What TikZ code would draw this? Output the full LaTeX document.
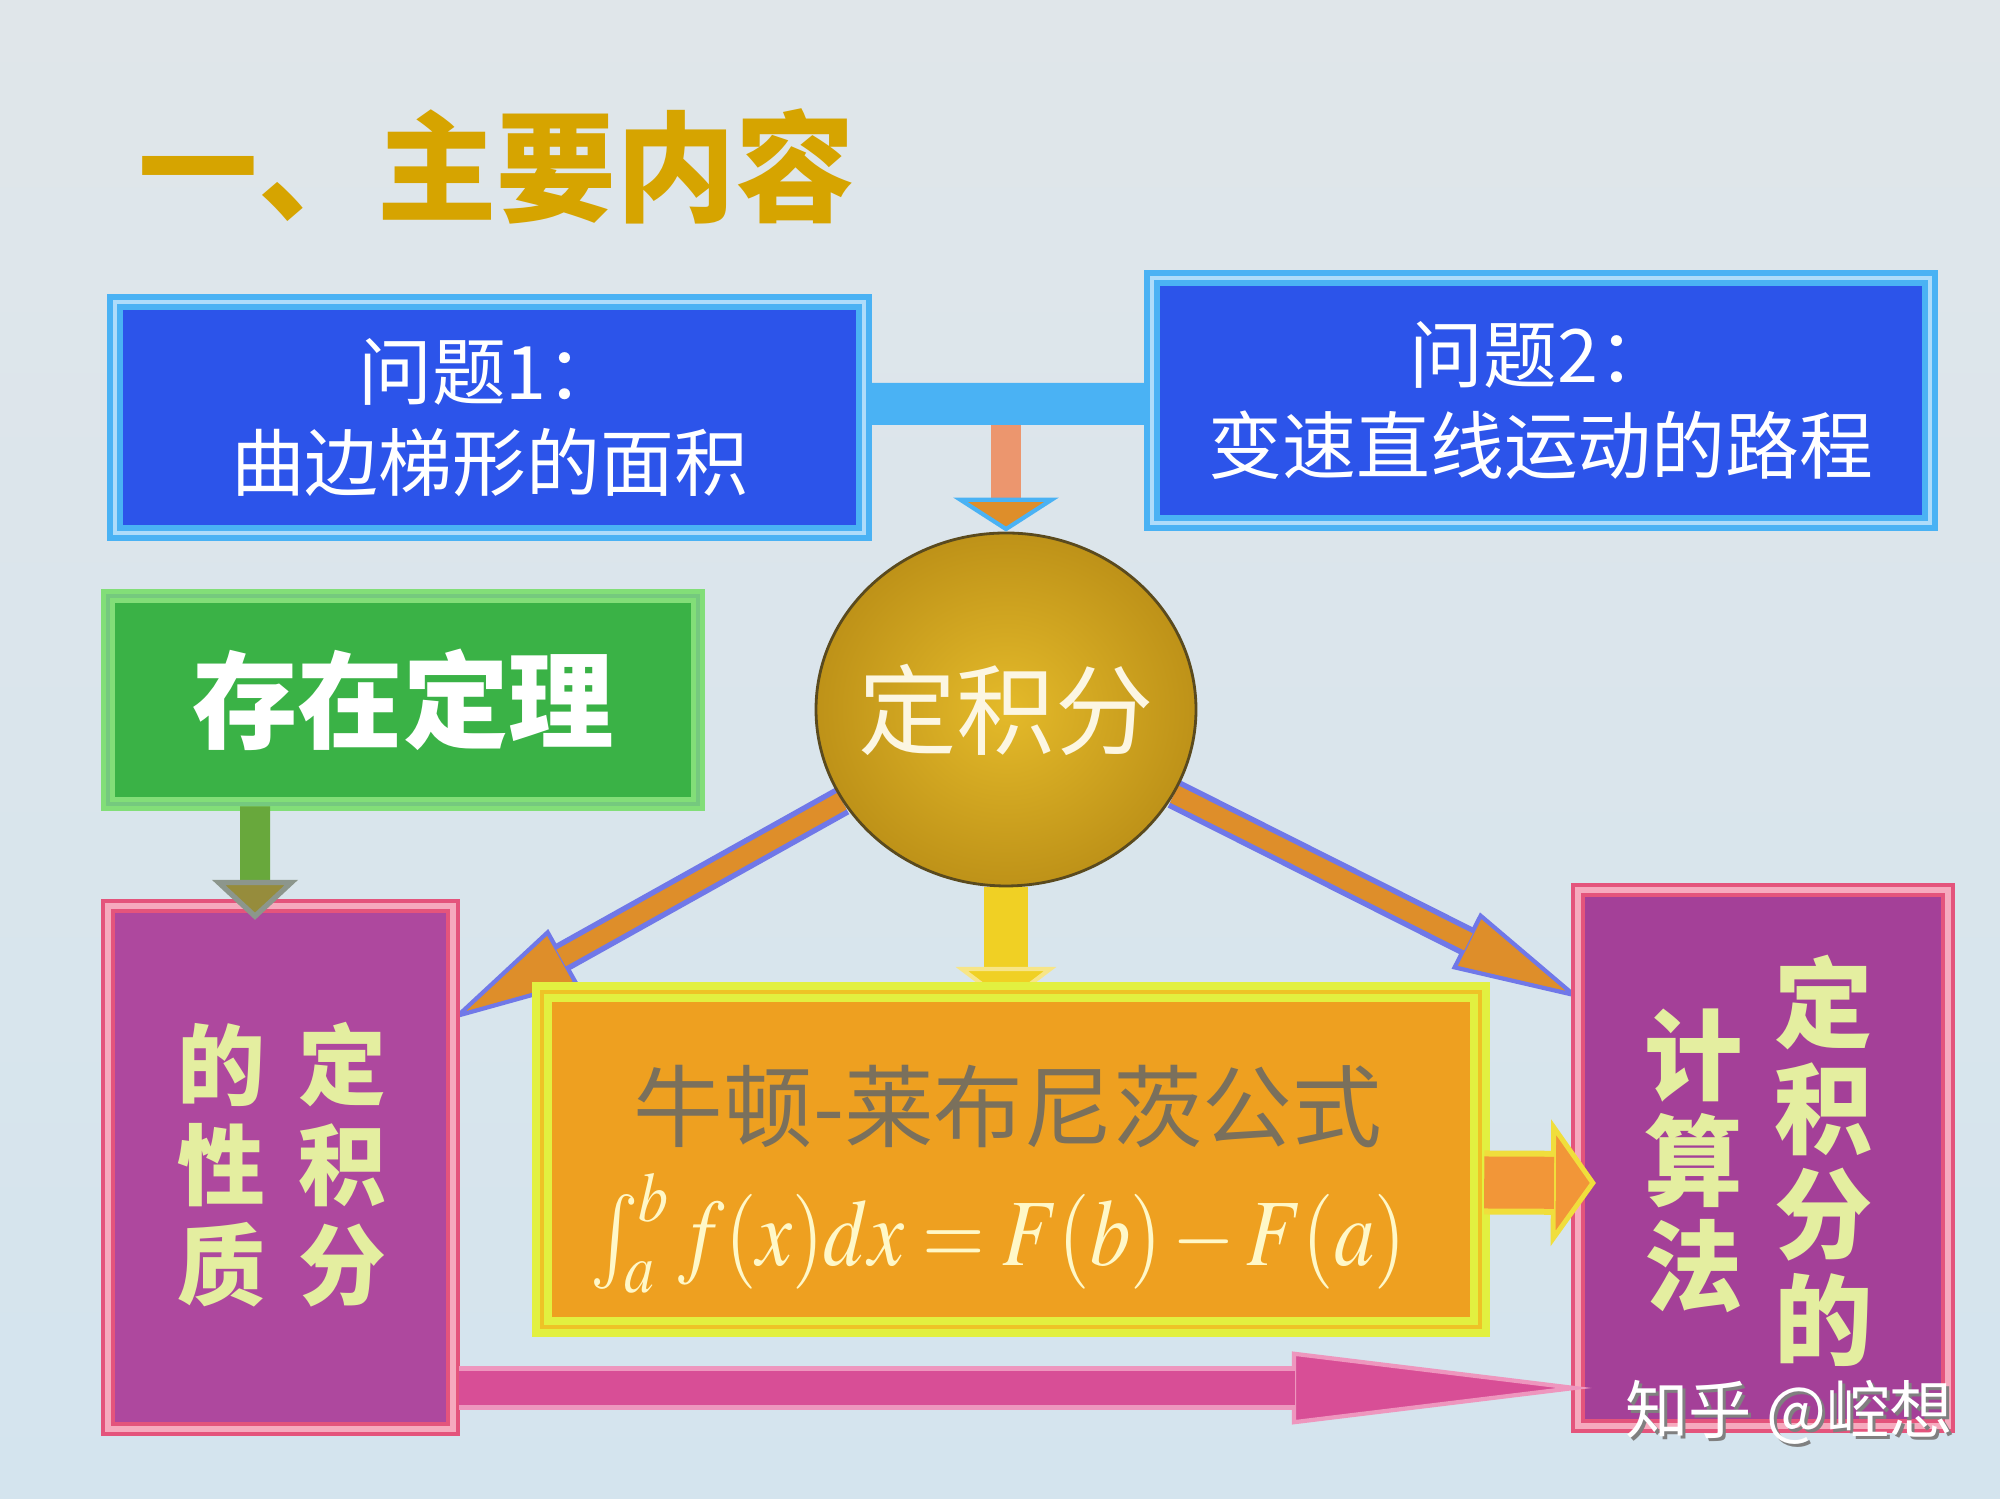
\documentclass[tikz,border=0pt]{standalone}
\usepackage{mathptmx}
\usepackage[no-math]{fontspec}
\setmainfont{Noto Sans CJK SC}
\usetikzlibrary{arrows.meta,shapes.geometric}
\pgfdeclarelayer{back}
\pgfsetlayers{back,main}

\definecolor{bgtop}{RGB}{224,230,234}
\definecolor{bgbot}{RGB}{212,228,238}
\definecolor{titlegold}{RGB}{214,164,0}
\definecolor{qblue}{RGB}{44,84,234}
\definecolor{qcyan}{RGB}{74,178,244}
\definecolor{djgold}{RGB}{190,146,24}
\definecolor{djlight}{RGB}{228,186,42}
\definecolor{djdark}{RGB}{90,74,30}
\definecolor{djtext}{RGB}{252,246,226}
\definecolor{czgreen}{RGB}{58,178,70}
\definecolor{czlight}{RGB}{130,222,120}
\definecolor{xzmag}{RGB}{174,72,158}
\definecolor{jsmag}{RGB}{164,64,152}
\definecolor{xzred}{RGB}{228,84,124}
\definecolor{xzpink}{RGB}{246,170,190}
\definecolor{xztext}{RGB}{228,238,160}
\definecolor{nlorange}{RGB}{238,160,32}
\definecolor{nllime}{RGB}{226,240,64}
\definecolor{nlgray}{RGB}{122,112,92}
\definecolor{nlcream}{RGB}{255,248,200}
\definecolor{arrorange}{RGB}{222,142,42}
\definecolor{arrblue}{RGB}{112,120,232}
\definecolor{barfill}{RGB}{236,150,110}
\definecolor{arryellow}{RGB}{240,208,36}
\definecolor{grshaft}{RGB}{104,168,60}
\definecolor{grhead}{RGB}{150,140,60}
\definecolor{grgray}{RGB}{140,150,140}
\definecolor{bkorange}{RGB}{242,150,56}
\definecolor{bkyellow}{RGB}{240,222,60}
\definecolor{arrpink}{RGB}{216,78,150}
\definecolor{pinkedge}{RGB}{238,150,190}

\begin{document}
\begin{tikzpicture}[auto,
    qbox/.style={rectangle, fill=qblue, draw=qcyan, line width=1.6pt, double=qcyan!45!white, double distance=1.4pt, text=white, align=center, font=\fontsize{21}{26}\selectfont},
    czbox/.style={rectangle, fill=czgreen, draw=czlight, line width=1.4pt, double=czgreen!70!white, double distance=1.4pt, text=white, font=\fontsize{30}{32}\selectfont\bfseries},
    xzbox/.style={rectangle, fill=xzmag, draw=xzred, line width=1.2pt, double=xzpink, double distance=1.6pt},
    nlbox/.style={rectangle, fill=nlorange, draw=nllime, line width=2.4pt, double=nllime!60!orange, double distance=1pt},
    coltext/.style={align=center, text=xztext, font=\fontsize{25}{28.5}\selectfont\bfseries},
    bararr/.style={line width=0.3cm, barfill, -{Triangle[length=0.34cm, width=1.05cm, color=qcyan, fill=arrorange, line width=1.2pt]}},
    grarr/.style={line width=0.3cm, grshaft, -{Triangle[length=0.4cm, width=0.85cm, color=grgray, fill=grhead, line width=1.5pt]}},
    ylarr/.style={line width=0.44cm, arryellow, -{Triangle[length=0.38cm, width=1.0cm, color=arryellow!55!white, fill=arryellow, line width=1.2pt]}},
    dgout/.style={line width=0.30cm, arrblue, -{Triangle[length=1.3cm, width=0.62cm, fill=arrorange, line width=1.2pt]}},
    dgin/.style={line width=0.19cm, arrorange, shorten >=1.27cm},
    bkout/.style={line width=0.64cm, bkyellow, -{Triangle[length=0.45cm, width=1.26cm, fill=bkorange, line width=1.4pt]}},
    bkin/.style={line width=0.52cm, bkorange, shorten >=0.42cm},
    pkout/.style={line width=0.44cm, pinkedge, -{Triangle[length=3.0cm, width=0.72cm, fill=arrpink, line width=1.2pt]}},
    pkin/.style={line width=0.34cm, arrpink, shorten >=2.97cm}]

    \useasboundingbox (0,0) rectangle (20,14.99);

    \node[text=titlegold, font=\fontsize{34}{40}\selectfont\bfseries] (title) at (4.97,13.33) {一、主要内容};
    \node[qbox, minimum width=7.49cm, minimum height=2.31cm] (q1) at (4.895,10.815) {问题1：\\曲边梯形的面积};
    \node[qbox, minimum width=7.78cm, minimum height=2.45cm] (q2) at (15.41,10.985) {问题2：\\变速直线运动的路程};
    \node[ellipse, minimum width=3.80cm, minimum height=3.53cm, draw=djdark, line width=0.8pt, inner color=djlight, outer color=djgold] (dj) at (10.06,7.895) {};
    \node[text=djtext, font=\fontsize{28}{30}\selectfont] (djt) at (dj) {定积分};
    \node[czbox, minimum width=5.90cm, minimum height=2.08cm] (cz) at (4.03,7.99) {存在定理};
    \node[xzbox, minimum width=3.45cm, minimum height=5.23cm] (xz) at (2.805,3.315) {};
    \node[coltext] (xzr) at (3.42,3.34) {定\\积\\分};
    \node[coltext] (xzl) at (2.21,3.34) {的\\性\\质};
    \node[nlbox, minimum width=9.38cm, minimum height=3.35cm] (nl) at (10.11,3.395) {};
    \node[text=nlgray, font=\fontsize{25.5}{28}\selectfont] (nlt) at (10.08,3.92) {牛顿-莱布尼茨公式};
    \node[text=nlcream, font=\fontsize{27}{30}\selectfont] (nlf) at (9.98,2.66) {\scalebox{0.85}[1]{$\int_a^b f(x)dx=F(b)-F(a)$}};
    \node[xzbox, fill=jsmag, minimum width=3.70cm, minimum height=5.36cm] (js) at (17.63,3.41) {};
    \node[coltext, font=\fontsize{28}{30}\selectfont\bfseries] (jsr) at (18.24,3.38) {定\\积\\分\\的};
    \node[coltext, font=\fontsize{28}{30}\selectfont\bfseries] (jsl) at (16.94,3.38) {计\\算\\法};

    \begin{pgfonlayer}{back}
    \shade[top color=bgtop, bottom color=bgbot] (0,0) rectangle (20,14.99);
    \draw[line width=0.42cm, qcyan] ([yshift=0.135cm]q1.east) to ([yshift=-0.035cm]q2.west);
    \draw[dgout] (dj) to ([xshift=-0.05cm,yshift=1.475cm]xz.east);
    \draw[dgin] (dj) to ([xshift=-0.05cm,yshift=1.475cm]xz.east);
    \draw[dgout] (dj) to ([xshift=0.06cm,yshift=1.59cm]js.west);
    \draw[dgin] (dj) to ([xshift=0.06cm,yshift=1.59cm]js.west);
    \coordinate (yt) at (10.06,4.94);
    \draw[ylarr] (dj) to (yt);
    \end{pgfonlayer}

    \coordinate (bm) at (10.06,10.74);
    \draw[bararr] (bm) to (dj.north);
    \draw[grarr] ([xshift=-1.48cm]cz.south) to ([xshift=-0.255cm,yshift=-0.16cm]xz.north);
    \draw[bkout] ([yshift=-0.23cm]nl.east) to ([xshift=0.2cm,yshift=-0.25cm]js.west);
    \draw[bkin] ([yshift=-0.23cm]nl.east) to ([xshift=0.2cm,yshift=-0.25cm]js.west);
    \draw[pkout] ([xshift=0.04cm,yshift=-2.205cm]xz.east) to ([xshift=0.16cm,yshift=-2.30cm]js.west);
    \draw[pkin] ([xshift=0.04cm,yshift=-2.205cm]xz.east) to ([xshift=0.16cm,yshift=-2.30cm]js.west);

    \node[text=gray, font=\fontsize{18}{20}\selectfont] (wms) at (17.92,0.84) {知乎 @崆想};
    \node[text=white, font=\fontsize{18}{20}\selectfont] (wm) at (17.89,0.87) {知乎 @崆想};

\end{tikzpicture}
\end{document}
